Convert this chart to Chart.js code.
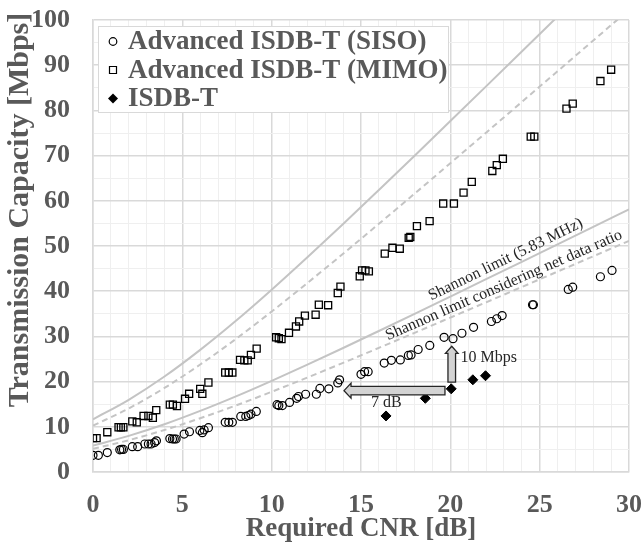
<!DOCTYPE html>
<html>
<head>
<meta charset="utf-8">
<script src="https://cdn.jsdelivr.net/npm/chart.js@4/dist/chart.umd.min.js"></script>
<style>
  html, body { margin: 0; padding: 0; background: #fff; }
</style>
</head>
<body>
<canvas id="chart-cnr" width="644" height="542"></canvas>
<script>
// Advanced ISDB-T (SISO) - required CNR [dB] / capacity [Mbps]
var sisoCnr  = [0.0, 0.3, 0.8, 1.5, 1.6, 1.7, 2.2, 2.5, 2.9, 3.1, 3.25, 3.45, 3.55, 4.3, 4.45, 4.55, 4.65, 5.1, 5.4, 5.98, 6.12, 6.22, 6.46, 7.4, 7.6, 7.8, 8.27, 8.55, 8.7, 8.84, 9.14, 10.3, 10.4, 10.6, 11.0, 11.4, 11.5, 11.9, 12.5, 12.7, 13.2, 13.7, 13.8, 15.0, 15.2, 15.4, 16.3, 16.7, 17.2, 17.65, 17.8, 18.2, 18.85, 19.65, 20.15, 20.65, 21.3, 22.3, 22.6, 22.9, 24.6, 24.65, 26.6, 26.85, 28.4, 29.05];
var sisoRate = [3.7, 3.7, 4.3, 4.9, 5.0, 5.0, 5.6, 5.6, 6.2, 6.2, 6.2, 6.5, 6.9, 7.4, 7.3, 7.3, 7.3, 8.4, 8.9, 9.2, 8.7, 9.3, 9.8, 11.0, 11.0, 11.0, 12.3, 12.3, 12.5, 12.8, 13.4, 14.9, 14.7, 14.7, 15.4, 16.3, 16.7, 17.2, 17.2, 18.5, 18.4, 19.7, 20.4, 21.6, 22.2, 22.2, 24.1, 24.7, 24.8, 25.8, 25.9, 27.1, 28.0, 29.8, 29.5, 30.7, 32.0, 33.3, 33.9, 34.6, 37.0, 37.0, 40.4, 40.9, 43.2, 44.6];

// Advanced ISDB-T (MIMO)
var mimoCnr  = [0.0, 0.2, 0.8, 1.43, 1.56, 1.7, 2.2, 2.45, 2.83, 3.1, 3.35, 3.54, 4.3, 4.47, 4.7, 5.15, 5.38, 6.0, 6.12, 6.46, 7.4, 7.6, 7.8, 8.23, 8.47, 8.66, 8.84, 9.16, 10.25, 10.4, 10.55, 10.97, 11.36, 11.54, 11.86, 12.46, 12.64, 13.16, 13.7, 13.85, 14.93, 15.06, 15.25, 15.44, 16.33, 16.76, 17.17, 17.67, 17.76, 18.13, 18.84, 19.6, 20.2, 20.74, 21.2, 22.35, 22.6, 22.94, 24.5, 24.7, 26.5, 26.85, 28.4, 29.0];
var mimoRate = [7.5, 7.5, 8.8, 9.9, 9.9, 9.9, 11.2, 11.0, 12.4, 12.4, 12.0, 13.7, 14.9, 14.9, 14.6, 16.2, 17.3, 18.4, 17.3, 19.8, 22.0, 22.0, 22.0, 24.8, 24.7, 24.7, 25.9, 27.3, 29.8, 29.6, 29.4, 30.8, 32.2, 33.3, 34.6, 34.8, 37.0, 36.9, 39.6, 41.0, 43.3, 44.6, 44.6, 44.4, 48.3, 49.6, 49.4, 51.8, 52.0, 54.4, 55.5, 59.4, 59.4, 61.8, 64.2, 66.6, 67.9, 69.3, 74.2, 74.2, 80.4, 81.5, 86.5, 89.0];

// ISDB-T
var isdbCnr  = [16.4, 18.6, 20.05, 21.26, 21.97];
var isdbRate = [12.4, 16.3, 18.4, 20.4, 21.3];

// Shannon curves read along the CNR axis
var curveCnr       = [0, 2, 4, 6, 8, 10, 12, 14, 16, 18, 20, 22, 24, 26, 28, 30];
var shannonSiso    = [5.83, 7.99, 10.56, 13.51, 16.73, 20.17, 23.76, 27.44, 31.20, 34.99, 38.82, 42.66, 46.51, 50.38, 54.24, 58.11];
var shannonSisoNet = [5.13, 7.03, 9.29, 11.89, 14.72, 17.75, 20.91, 24.15, 27.46, 30.79, 34.16, 37.54, 40.93, 44.33, 47.73, 51.14];
var shannonMimo    = [11.66, 15.98, 21.12, 27.02, 33.46, 40.34, 47.52, 54.88, 62.40, 69.98, 77.64, 85.32, 93.02, 100.76, 108.5, 116.2];
var shannonMimoNet = [10.26, 14.06, 18.59, 23.78, 29.44, 35.50, 41.82, 48.29, 54.91, 61.58, 68.32, 75.08, 81.86, 88.67, 95.46, 102.28];

var seriesNames = ['Advanced ISDB-T (SISO)', 'Advanced ISDB-T (MIMO)', 'ISDB-T'];
var yTitle = 'Transmission Capacity [Mbps]';

function pairs(xs, ys) {
  return xs.map(function (x, i) { return { x: x, y: ys[i] }; });
}

var serif = '"Liberation Serif", "Times New Roman", serif';
var gray = '#595959';

function curve(ys, dashed) {
  return {
    data: pairs(curveCnr, ys),
    showLine: true,
    borderColor: '#c4c4c4',
    borderWidth: 2,
    borderDash: dashed ? [6, 4] : [],
    pointRadius: 0,
    cubicInterpolationMode: 'monotone',
    fill: false
  };
}

// arrows and notes, placed in data units
var notes = {
  arrow7dB: { from: [19.7, 18.0], to: [14.05, 18.0] },
  arrow10M: { from: [20.08, 19.9], to: [20.08, 27.8] },
  label7dB: { at: [16.42, 15.2], text: '7 dB' },
  label10M: { at: [22.15, 25.2], text: '10 Mbps' },
  shannon: { at: [23.1, 47.0], text: 'Shannon limit (5.83 MHz)', angle: -26 },
  shannonNet: { at: [23.0, 41.3], text: 'Shannon limit considering net data ratio', angle: -23.5 }
};

function drawArrow(ctx, x1, y1, x0, y0, bh, hh, hl) {
  var ang = Math.atan2(y0 - y1, x0 - x1);
  var len = Math.hypot(x0 - x1, y0 - y1);
  ctx.save();
  ctx.translate(x1, y1);
  ctx.rotate(ang);
  ctx.beginPath();
  ctx.moveTo(0, -bh);
  ctx.lineTo(len - hl, -bh);
  ctx.lineTo(len - hl, -hh);
  ctx.lineTo(len, 0);
  ctx.lineTo(len - hl, hh);
  ctx.lineTo(len - hl, bh);
  ctx.lineTo(0, bh);
  ctx.closePath();
  ctx.fillStyle = '#d3d3d3';
  ctx.fill();
  ctx.lineWidth = 1.3;
  ctx.strokeStyle = '#262626';
  ctx.stroke();
  ctx.restore();
}

var notesPlugin = {
  id: 'notes',
  afterDatasetsDraw: function (chart) {
    var ctx = chart.ctx, sx = chart.scales.x, sy = chart.scales.y;
    var px = function (p) { return [sx.getPixelForValue(p[0]), sy.getPixelForValue(p[1])]; };

    var a = px(notes.arrow7dB.from), b = px(notes.arrow7dB.to);
    drawArrow(ctx, a[0], a[1], b[0], b[1], 4.3, 7.5, 7);
    a = px(notes.arrow10M.from); b = px(notes.arrow10M.to);
    drawArrow(ctx, a[0], a[1], b[0], b[1], 3.8, 6.3, 7);

    ctx.save();
    ctx.fillStyle = '#262626';
    ctx.font = '16px ' + serif;
    ctx.textAlign = 'center';
    ctx.textBaseline = 'middle';
    [notes.label7dB, notes.label10M].forEach(function (n) {
      var p = px(n.at);
      ctx.fillText(n.text, p[0], p[1]);
    });
    [notes.shannon, notes.shannonNet].forEach(function (n) {
      var p = px(n.at);
      ctx.save();
      ctx.translate(p[0], p[1]);
      ctx.rotate(n.angle * Math.PI / 180);
      ctx.fillText(n.text, 0, 0);
      ctx.restore();
    });
    ctx.restore();

    // legend box inside the plot
    var area = chart.chartArea;
    var lx = area.left + 5, ly = area.top + 6, lw = 350, lh = 86;
    ctx.save();
    ctx.fillStyle = '#fff';
    ctx.fillRect(lx, ly, lw, lh);
    ctx.strokeStyle = '#d9d9d9';
    ctx.lineWidth = 1;
    ctx.strokeRect(lx + 0.5, ly + 0.5, lw, lh);
    ctx.font = 'bold 27px ' + serif;
    ctx.textBaseline = 'middle';
    ctx.textAlign = 'left';
    for (var i = 0; i < seriesNames.length; i++) {
      var ry = ly + 15.5 + i * 28.5, mx = lx + 15;
      ctx.strokeStyle = '#000';
      ctx.fillStyle = '#000';
      ctx.lineWidth = 1.2;
      ctx.beginPath();
      if (i === 0) {
        ctx.arc(mx, ry, 3.8, 0, Math.PI * 2);
        ctx.stroke();
      } else if (i === 1) {
        ctx.rect(mx - 3.5, ry - 3.5, 7, 7);
        ctx.stroke();
      } else {
        ctx.moveTo(mx, ry - 5); ctx.lineTo(mx + 5, ry); ctx.lineTo(mx, ry + 5); ctx.lineTo(mx - 5, ry);
        ctx.closePath();
        ctx.fill();
      }
      ctx.fillStyle = gray;
      ctx.fillText(seriesNames[i], lx + 30, ry + 1);
    }

    // y axis title, set a little above the plot centre as in the original
    ctx.font = 'bold 30px ' + serif;
    ctx.translate(20, area.top + 190);
    ctx.rotate(-Math.PI / 2);
    ctx.textAlign = 'center';
    ctx.fillStyle = gray;
    ctx.fillText(yTitle, 0, 0);
    ctx.restore();
  }
};

var config = {
  type: 'scatter',
  data: {
    datasets: [
      { label: seriesNames[0], data: pairs(sisoCnr, sisoRate), pointStyle: 'circle', pointRadius: 4, borderWidth: 1.2, borderColor: '#000', backgroundColor: 'rgba(0,0,0,0)' },
      { label: seriesNames[1], data: pairs(mimoCnr, mimoRate), pointStyle: 'rect', pointRadius: 5, borderWidth: 1.3, borderColor: '#000', backgroundColor: 'rgba(0,0,0,0)' },
      { label: seriesNames[2], data: pairs(isdbCnr, isdbRate), pointStyle: 'rectRot', pointRadius: 5, borderWidth: 1, borderColor: '#000', backgroundColor: '#000' },
      curve(shannonMimo, false),
      curve(shannonMimoNet, true),
      curve(shannonSiso, false),
      curve(shannonSisoNet, true)
    ]
  },
  options: {
    responsive: false,
    animation: false,
    events: [],
    layout: { padding: { top: 20, right: 15, left: 0, bottom: 0 } },
    plugins: { legend: { display: false }, tooltip: { enabled: false } },
    scales: {
      x: {
        type: 'linear', min: 0, max: 30,
        afterFit: function (s) { s.height = 70; s.paddingLeft = 0; s.paddingRight = 0; },
        ticks: {
          stepSize: 1, autoSkip: false, maxRotation: 0, padding: 18,
          color: gray, font: { family: serif, size: 26, weight: 'bold' },
          callback: function (v) { return v % 5 === 0 ? v : ''; }
        },
        grid: {
          drawTicks: false,
          color: function (c) { return c.tick && c.tick.value % 5 === 0 ? '#d9d9d9' : '#efefef'; },
          lineWidth: function (c) { return c.tick && c.tick.value % 5 === 0 ? 1.5 : 1; }
        },
        border: { color: '#d9d9d9', width: 1.5 },
        title: {
          display: true, text: 'Required CNR [dB]', color: gray,
          font: { family: serif, size: 27, weight: 'bold', lineHeight: 0.95 }, padding: { top: 0, bottom: 0 }
        }
      },
      y: {
        type: 'linear', min: 0, max: 100,
        afterFit: function (s) { s.width = 93; s.paddingTop = 0; s.paddingBottom = 0; },
        ticks: {
          stepSize: 5, autoSkip: false, padding: 23,
          color: gray, font: { family: serif, size: 26, weight: 'bold' },
          callback: function (v) { return v % 10 === 0 ? v : ''; }
        },
        grid: {
          drawTicks: false,
          color: function (c) { return c.tick && c.tick.value % 10 === 0 ? '#d9d9d9' : '#efefef'; },
          lineWidth: function (c) { return c.tick && c.tick.value % 10 === 0 ? 1.5 : 1; }
        },
        border: { color: '#d9d9d9', width: 1.5 },
        title: { display: false }
      }
    }
  },
  plugins: [notesPlugin]
};

window.onload = function () {
  var ctx = document.getElementById('chart-cnr').getContext('2d');
  window.cnrChart = new Chart(ctx, config);
};
</script>
</body>
</html>
